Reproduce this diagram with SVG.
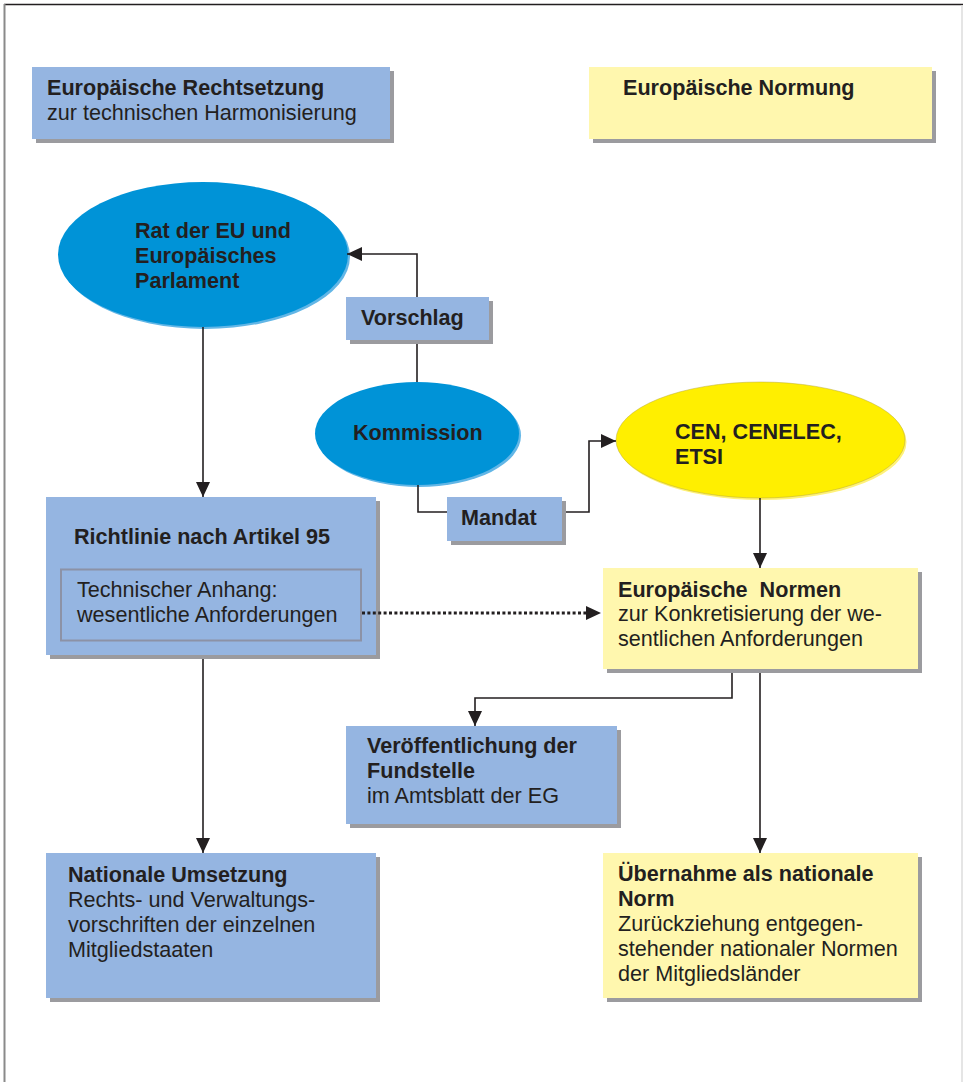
<svg xmlns="http://www.w3.org/2000/svg" width="963" height="1082" viewBox="0 0 963 1082">
<defs>
<style>
text{font-family:"Liberation Sans",Arial,sans-serif;font-size:21.6px;fill:#231f20}
.b{font-weight:bold}
.shadow{fill:#9b9b9f}
.blue{fill:#95b5e1}
.yel{fill:#fff7ae}
.conn{fill:none;stroke:#231f20;stroke-width:1.6}
.dot{fill:none;stroke:#231f20;stroke-width:3;stroke-dasharray:3 2.4}
</style>
<marker id="ah" viewBox="0 0 15 14" refX="15" refY="7" markerWidth="15" markerHeight="14" markerUnits="userSpaceOnUse" orient="auto">
<path d="M0,0 L15,7 L0,14 Z" fill="#231f20"/>
</marker>
</defs>
<rect width="963" height="1082" fill="#fff"/>
<g id="frame">
<line x1="4" y1="4.5" x2="963" y2="4.5" stroke="#231f20" stroke-width="1.6"/>
<line x1="4.5" y1="4" x2="4.5" y2="1082" stroke="#8a8a8a" stroke-width="2"/>
<line x1="962" y1="5" x2="962" y2="1082" stroke="#dcdcdc" stroke-width="1.5"/>
</g>
<g id="header-recht">
<rect class="shadow" x="36" y="71" width="358" height="72"/>
<rect class="blue" x="32" y="67" width="358" height="72"/>
<text class="b" x="47" y="95">Europäische Rechtsetzung</text>
<text x="47" y="120">zur technischen Harmonisierung</text>
</g>
<g id="header-normung">
<rect class="shadow" x="593" y="71" width="343" height="72"/>
<rect class="yel" x="589" y="67" width="343" height="72"/>
<text class="b" x="623" y="95">Europäische Normung</text>
</g>
<g id="rat">
<ellipse cx="205" cy="256.5" rx="145" ry="72.5" fill="#62b6e6"/>
<ellipse cx="203" cy="254.5" rx="145" ry="72.5" fill="#0093d7"/>
<text class="b" x="135" y="238">Rat der EU und</text>
<text class="b" x="135" y="263">Europäisches</text>
<text class="b" x="135" y="288">Parlament</text>
</g>
<g id="vorschlag">
<rect class="shadow" x="350" y="301" width="143" height="43"/>
<rect class="blue" x="346" y="297" width="143" height="43"/>
<text class="b" x="361" y="325">Vorschlag</text>
</g>
<g id="kommission">
<ellipse cx="419" cy="435.5" rx="102" ry="51.5" fill="#62b6e6"/>
<ellipse cx="417" cy="433.5" rx="102" ry="51.5" fill="#0093d7"/>
<text class="b" x="353" y="440">Kommission</text>
</g>
<g id="mandat">
<rect class="shadow" x="451" y="501" width="115" height="44"/>
<rect class="blue" x="447" y="497" width="115" height="44"/>
<text class="b" x="461" y="525">Mandat</text>
</g>
<g id="cen">
<ellipse cx="762" cy="442" rx="144.5" ry="58" fill="#fff27a"/>
<ellipse cx="760.5" cy="440" rx="144.5" ry="58" fill="#ffef00" stroke="#b5a63a" stroke-width="0.8" stroke-opacity="0.6"/>
<text class="b" x="675" y="439">CEN, CENELEC,</text>
<text class="b" x="675" y="464">ETSI</text>
</g>
<g id="richtlinie">
<rect class="shadow" x="50" y="501" width="330" height="158"/>
<rect class="blue" x="46" y="497" width="330" height="158"/>
<text class="b" x="74" y="544">Richtlinie nach Artikel 95</text>
<rect x="61" y="569.5" width="300" height="71" fill="none" stroke="#8c92a6" stroke-width="2"/>
<text x="77" y="597">Technischer Anhang:</text>
<text x="77" y="622">wesentliche Anforderungen</text>
</g>
<g id="eu-normen">
<rect class="shadow" x="607" y="572" width="315" height="101"/>
<rect class="yel" x="603" y="568" width="315" height="101"/>
<text class="b" x="618" y="597" xml:space="preserve">Europäische  Normen</text>
<text x="618" y="621">zur Konkretisierung der we-</text>
<text x="618" y="646">sentlichen Anforderungen</text>
</g>
<g id="veroeffentlichung">
<rect class="shadow" x="350" y="730" width="271" height="98"/>
<rect class="blue" x="346" y="726" width="271" height="98"/>
<text class="b" x="367" y="753">Veröffentlichung der</text>
<text class="b" x="367" y="778">Fundstelle</text>
<text x="367" y="803">im Amtsblatt der EG</text>
</g>
<g id="nationale-umsetzung">
<rect class="shadow" x="50" y="857" width="330" height="145"/>
<rect class="blue" x="46" y="853" width="330" height="145"/>
<text class="b" x="68" y="882">Nationale Umsetzung</text>
<text x="68" y="907">Rechts- und Verwaltungs-</text>
<text x="68" y="932">vorschriften der einzelnen</text>
<text x="68" y="957">Mitgliedstaaten</text>
</g>
<g id="uebernahme">
<rect class="shadow" x="607" y="857" width="315" height="145"/>
<rect class="yel" x="603" y="853" width="315" height="145"/>
<text class="b" x="618" y="881">Übernahme als nationale</text>
<text class="b" x="618" y="906">Norm</text>
<text x="618" y="931">Zurückziehung entgegen-</text>
<text x="618" y="956">stehender nationaler Normen</text>
<text x="618" y="981">der Mitgliedsländer</text>
</g>
<g id="connectors">
<path class="conn" d="M203,327 V497" marker-end="url(#ah)"/>
<path class="conn" d="M417,382 V344"/>
<path class="conn" d="M417,297 V254 H347" marker-end="url(#ah)"/>
<path class="conn" d="M418,485 V512 H447"/>
<path class="conn" d="M566,512 H589 V441 H616" marker-end="url(#ah)"/>
<path class="conn" d="M760,498 V568" marker-end="url(#ah)"/>
<path class="dot" d="M362,613 H588"/>
<path d="M586,606 L601,613 L586,620 Z" fill="#231f20"/>
<path class="conn" d="M203,659 V853" marker-end="url(#ah)"/>
<path class="conn" d="M732,673 V698 H475 V726" marker-end="url(#ah)"/>
<path class="conn" d="M760,673 V853" marker-end="url(#ah)"/>
</g>
</svg>
